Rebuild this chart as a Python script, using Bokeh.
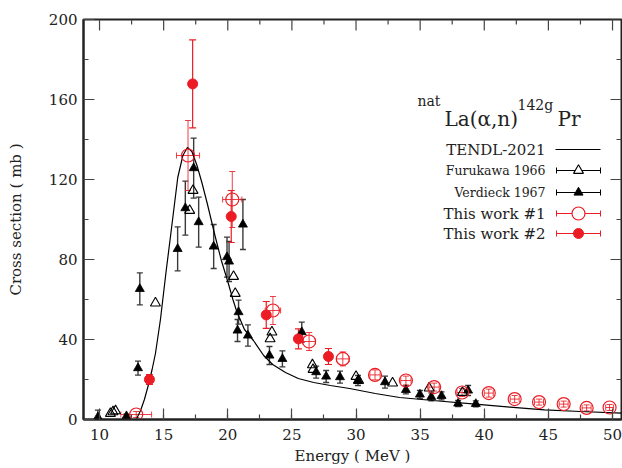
from bokeh.plotting import figure
from bokeh.models import (ColumnDataSource, Whisker, TeeHead, LinearAxis,
                          SingleIntervalTicker, Range1d, Label)
from bokeh.embed import file_html
from bokeh.resources import INLINE

# ---------------- data ----------------
tendl_E = [12.9, 13.2, 13.5, 13.84, 14.1, 14.36, 14.75, 15.2, 15.6, 16.1, 16.5, 16.85,
           17.2, 17.6, 18.0, 18.4, 19.0, 19.5, 20.0, 20.4, 20.7, 21.3, 22.0, 22.8, 23.5,
           24.5, 25.5, 26.7, 28.0, 29.5, 31.5, 33.4, 36.0, 39.3, 42.0, 44.7, 47.5, 50.7]
tendl_xs = [0.5, 4.5, 10, 18, 25, 33, 50, 74.5, 95, 121, 132, 136,
            134, 127, 118, 108, 92, 79.5, 69, 60, 54, 45, 39.5, 32, 27.5,
            23.5, 20.5, 18.5, 17, 15.5, 13, 11, 9.5, 7.7, 6.2, 4.8, 4.0, 3.2]

furukawa_E = [10.85, 11.05, 11.25, 14.36, 17.03, 17.29, 20.45, 20.58, 23.3, 23.44,
              26.6, 26.65, 30.0, 30.2, 32.85, 35.7, 38.3]
furukawa_xs = [3.0, 3.8, 4.3, 58.2, 104.5, 114.5, 71.5, 63.0, 40.3, 43.7,
               27.3, 25.0, 21.5, 19.5, 18.2, 15.7, 13.5]

verdieck_E = [9.87, 12.1, 13.0, 13.14, 16.09, 16.69, 17.34, 17.73, 18.9, 19.94, 20.1,
              20.76, 20.84, 21.18, 21.57, 23.25, 24.26, 25.77, 26.89, 27.67, 28.75,
              30.15, 32.26, 33.89, 34.98, 35.87, 36.67, 37.96, 38.74, 39.34]
verdieck_xs = [1.2, 1.7, 25.7, 65.3, 85.3, 105.7, 125.7, 98.7, 86.5, 81.2, 79.0,
               44.5, 53.7, 97.5, 42.0, 32.0, 30.3, 43.7, 23.7, 21.5, 21.2,
               19.5, 18.7, 14.8, 12.5, 11.3, 11.8, 8.0, 14.5, 7.8]
verdieck_err = [3.5, 1.0, 3.5, 8.0, 11.0, 13.5, 15.0, 12.5, 11.0, 10.0, 10.0,
                5.5, 6.0, 12.5, 5.3, 4.5, 4.0, 5.0, 3.0, 3.0, 3.0,
                2.5, 3.0, 2.0, 2.0, 2.0, 2.0, 1.5, 2.5, 1.5]

work1_E = [12.86, 16.9, 20.35, 23.52, 26.34, 28.97, 31.48, 33.89, 36.09, 38.27,
           40.35, 42.37, 44.27, 46.19, 47.98, 49.77]
work1_xs = [2.5, 132.0, 110.0, 54.5, 39.0, 30.3, 22.3, 19.5, 16.2, 13.5,
            13.2, 10.2, 8.7, 7.7, 5.8, 6.0]
work1_dE = [1.2, 0.9, 0.75, 0.6, 0.5, 0.5, 0.4, 0.4, 0.4, 0.4,
            0.35, 0.35, 0.35, 0.35, 0.35, 0.3]
work1_err = [1.5, 17.5, 14.0, 7.0, 4.5, 3.5, 2.5, 2.2, 2.0, 2.0,
             2.0, 1.8, 1.5, 1.5, 1.5, 1.5]

work2_E = [13.89, 17.26, 20.27, 23.0, 25.51, 27.85]
work2_xs = [20.0, 167.8, 101.5, 52.3, 40.3, 31.5]
work2_dE = [0.25, 0.2, 0.2, 0.2, 0.2, 0.2]
work2_err = [2.5, 22.0, 13.0, 6.7, 5.0, 4.0]

x_major_ticks = [10, 15, 20, 25, 30, 35, 40, 45, 50]
y_major_ticks = [0, 40, 80, 120, 160, 200]

x_title = "Energy ( MeV )"
y_title = "Cross section ( mb )"
legend_names = ["TENDL-2021", "Furukawa 1966", "Verdieck 1967", "This work #1", "This work #2"]

# ---------------- layout ----------------
XMIN, XMAX = 8.75, 50.7
YMIN, YMAX = 0.0, 200.0
W, H = 622, 468
FL, FR, FT, FB = 83, 621, 19, 419   # frame edges in canvas pixels
FONT = "DejaVu Serif"
RED = "#ec1c24"
TXT = "#222222"


def xd(px):
    return XMIN + (px - FL) / (FR - FL) * (XMAX - XMIN)


def yd(py):
    return YMIN + (FB - py) / (FB - FT) * (YMAX - YMIN)


p = figure(width=W, height=H, x_range=Range1d(XMIN, XMAX), y_range=Range1d(YMIN, YMAX),
           output_backend="svg", toolbar_location=None, title=None,
           x_axis_type=None, y_axis_type=None,
           min_border_left=FL, min_border_right=W - FR,
           min_border_top=FT, min_border_bottom=H - FB)
p.xgrid.visible = False
p.ygrid.visible = False
p.outline_line_color = "#222222"
p.outline_line_width = 2
p.background_fill_color = "white"


def make_axis(interval, side, label):
    ax = LinearAxis(ticker=SingleIntervalTicker(interval=interval, num_minor_ticks=2))
    ax.major_tick_in = 11
    ax.major_tick_out = 0
    ax.minor_tick_in = 5
    ax.minor_tick_out = 0
    ax.axis_line_width = 2
    ax.axis_line_color = "#222222"
    ax.major_tick_line_color = "#444444"
    ax.minor_tick_line_color = "#444444"
    ax.major_tick_line_width = 1.2
    ax.minor_tick_line_width = 1.2
    ax.major_label_text_font = FONT
    ax.major_label_text_font_size = "15px"
    ax.major_label_text_color = TXT
    ax.axis_label = label
    ax.axis_label_text_font = FONT
    ax.axis_label_text_font_size = "15px"
    ax.axis_label_text_font_style = "normal"
    ax.axis_label_text_color = TXT
    p.add_layout(ax, side)
    return ax


xb = make_axis(5, "below", x_title)
xb.major_label_standoff = 9
xb.axis_label_standoff = 4
yl = make_axis(40, "left", y_title)
yl.major_label_standoff = 6
yl.axis_label_standoff = 21

# mirrored ticks on top and right edges (drawn from the tick lists)
tx_major = x_major_ticks
tx_minor = [t + 2.5 for t in x_major_ticks[:-1]]
ty_major = y_major_ticks
ty_minor = [t + 20 for t in y_major_ticks[:-1]]
p.segment(tx_major, [YMAX] * len(tx_major), tx_major, [yd(FT + 11)] * len(tx_major),
          line_color="#444444", line_width=1.2)
p.segment(tx_minor, [YMAX] * len(tx_minor), tx_minor, [yd(FT + 5)] * len(tx_minor),
          line_color="#444444", line_width=1.2)
p.segment([XMAX] * len(ty_major), ty_major, [xd(FR - 11)] * len(ty_major), ty_major,
          line_color="#444444", line_width=1.2)
p.segment([XMAX] * len(ty_minor), ty_minor, [xd(FR - 5)] * len(ty_minor), ty_minor,
          line_color="#444444", line_width=1.2)


def err_bars(x, y, d, dim, color, lw, head, alpha=1.0):
    if dim == "height":
        src = ColumnDataSource(dict(base=x, lower=[a - b for a, b in zip(y, d)],
                                    upper=[a + b for a, b in zip(y, d)]))
    else:
        src = ColumnDataSource(dict(base=y, lower=[a - b for a, b in zip(x, d)],
                                    upper=[a + b for a, b in zip(x, d)]))
    w = Whisker(source=src, base="base", lower="lower", upper="upper", dimension=dim,
                line_color=color, line_width=lw, line_alpha=alpha,
                upper_head=TeeHead(size=head, line_color=color, line_width=lw, line_alpha=alpha),
                lower_head=TeeHead(size=head, line_color=color, line_width=lw, line_alpha=alpha))
    p.add_layout(w)


# TENDL curve
p.line(tendl_E, tendl_xs, line_color="black", line_width=1.2)

# Verdieck
err_bars(verdieck_E, verdieck_xs, verdieck_err, "height", "#3a3a3a", 1.4, 6)
p.scatter(verdieck_E, verdieck_xs, marker="triangle", size=9, fill_color="black",
          line_color="black", line_width=0.8)

# Furukawa
p.scatter(furukawa_E, furukawa_xs, marker="triangle", size=10, fill_alpha=0,
          line_color="black", line_width=1.1)

# This work #1
err_bars(work1_E, work1_xs, work1_err, "height", RED, 1.0, 6, 0.85)
err_bars(work1_E, work1_xs, work1_dE, "width", RED, 1.0, 6, 0.85)
p.scatter(work1_E, work1_xs, marker="circle", size=13, fill_alpha=0,
          line_color=RED, line_width=1.2)

# This work #2
err_bars(work2_E, work2_xs, work2_err, "height", RED, 1.2, 7)
err_bars(work2_E, work2_xs, work2_dE, "width", RED, 1.2, 7)
p.scatter(work2_E, work2_xs, marker="circle", size=10, fill_color=RED,
          line_color=RED, line_width=1)

# ---------------- title ----------------
title_parts = [("nat", 417, 100, "14px"), ("La(\u03b1,n)", 444, 118, "20px"),
               ("142g", 517, 104, "14px"), ("Pr", 557, 118, "20px")]
for txt, px, py, fs in title_parts:
    p.add_layout(Label(x=xd(px), y=yd(py), text=txt, text_font=FONT, text_font_size=fs,
                       text_color=TXT, text_baseline="alphabetic", text_align="left"))

# ---------------- legend ----------------
row_py = [149, 170, 192, 213, 233]
row_fs = ["15px", "12.5px", "12.5px", "15px", "15px"]
lx0, lx1, lxm, ltx = xd(555), xd(600), xd(578), xd(545)
for i, name in enumerate(legend_names):
    yy = yd(row_py[i])
    p.add_layout(Label(x=ltx, y=yy, text=name, text_font=FONT, text_font_size=row_fs[i],
                       text_color=TXT, text_baseline="middle", text_align="right"))
    if i == 0:
        p.line([lx0, lx1], [yy, yy], line_color="black", line_width=1.2)
        continue
    col = "black" if i < 3 else RED
    err_bars([lxm], [yy], [lx1 - lxm], "width", col, 1.0, 6)
    if i == 1:
        p.scatter([lxm], [yy], marker="triangle", size=10, fill_color="white",
                  line_color="black", line_width=1.1)
    elif i == 2:
        p.scatter([lxm], [yy], marker="triangle", size=9, fill_color="black",
                  line_color="black")
    elif i == 3:
        p.scatter([lxm], [yy], marker="circle", size=13, fill_color="white",
                  line_color=RED, line_width=1.2)
    else:
        p.scatter([lxm], [yy], marker="circle", size=10, fill_color=RED, line_color=RED)

open("out.html", "w").write(file_html(p, INLINE))
